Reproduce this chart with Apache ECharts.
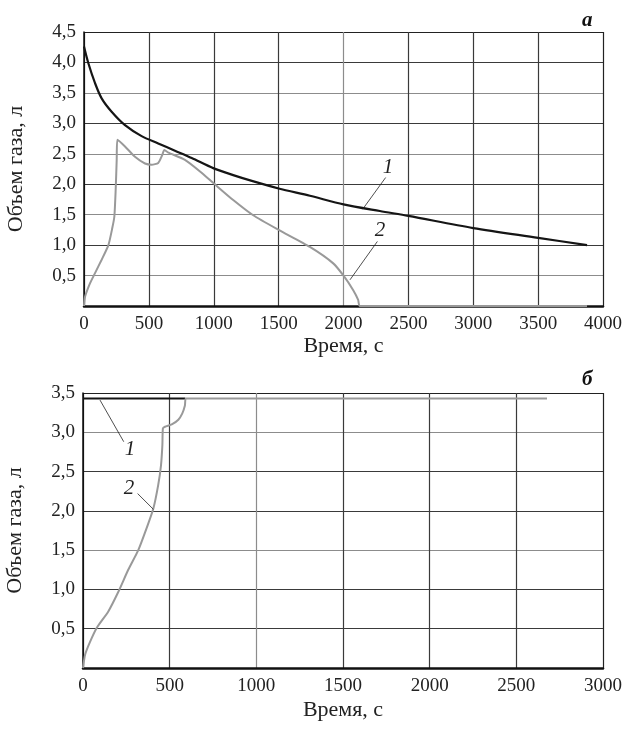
<!DOCTYPE html>
<html><head><meta charset="utf-8">
<script src="https://cdn.jsdelivr.net/npm/echarts@6/dist/echarts.min.js"></script>
<style>html,body{margin:0;padding:0;background:#fff}#c{width:623px;height:731px}</style>
</head><body><div id="c"></div>
<script>
// Panel а
const aCurve1T = [0, 33, 85, 136, 213, 316, 444, 572, 701, 830, 1000, 1150, 1300, 1500, 1741, 2000, 2280, 2500, 3000, 3500, 3877];
const aCurve1V = [4.26, 3.99, 3.66, 3.41, 3.19, 2.97, 2.79, 2.67, 2.55, 2.43, 2.26, 2.15, 2.05, 1.93, 1.81, 1.67, 1.56, 1.48, 1.28, 1.12, 1.00];
const aCurve2T = [0, 8, 46, 85, 136, 188, 218, 234, 244, 252, 257, 316, 393, 470, 521, 572, 603, 619, 650, 778, 894, 1002, 1150, 1304, 1500, 1741, 1921, 2003, 2075, 2113, 2126, 3877];
const aCurve2V = [0, 0.15, 0.37, 0.54, 0.76, 1.0, 1.28, 1.47, 1.90, 2.40, 2.73, 2.62, 2.45, 2.34, 2.32, 2.35, 2.48, 2.56, 2.52, 2.40, 2.21, 2.01, 1.74, 1.49, 1.25, 0.97, 0.70, 0.49, 0.26, 0.10, 0, 0];
// Panel б
const bCurve1T = [0, 590];
const bCurve1V = [3.43, 3.43];
const bCurve2T = [0, 12, 40, 79, 146, 204, 261, 319, 367, 406, 434, 450, 458, 461, 473, 512, 550, 573, 588, 594, 2677];
const bCurve2V = [0, 0.17, 0.33, 0.51, 0.72, 0.97, 1.25, 1.50, 1.78, 2.03, 2.33, 2.58, 2.84, 3.05, 3.07, 3.10, 3.16, 3.24, 3.34, 3.43, 3.43];
// Axis ticks
const aXMax = 4000, aXStep = 500, aYMax = 4.5, aYStep = 0.5;
const bXMax = 3000, bXStep = 500, bYMax = 3.5, bYStep = 0.5;
// Labels
const yName = 'Объем газа, л';
const xName = 'Время, с';
const panelLabels = ['а', 'б'];
const curveLabels = ['1', '2'];
// Annotation anchors (data coords): [labelPos, leaderStart, leaderEnd]
const aNote1 = [[2343, 2.28], [2325, 2.11], [2148, 1.59]];
const aNote2 = [[2281, 1.24], [2261, 1.06], [2050, 0.43]];
const bNote1 = [[271, 2.78], [98, 3.41], [235, 2.88]];
const bNote2 = [[265, 2.28], [315, 2.22], [406, 2.02]];

const zip = (t, v) => t.map((x, i) => [x, v[i]]);
const FONT = 'Liberation Serif';
const D = '#3a3a3a', G = '#8c8c8c';

function yAxis(idx, max, step, colors) {
  return {
    gridIndex: idx, type: 'value', min: 0, max: max, interval: step,
    name: yName, nameLocation: 'middle', nameGap: 57,
    nameTextStyle: {fontFamily: FONT, fontSize: 22, color: '#222'},
    axisLine: {show: true, lineStyle: {color: '#111', width: 1.5}},
    axisTick: {show: false},
    axisLabel: {margin: 8, fontFamily: FONT, fontSize: 19, color: '#222',
      formatter: v => v === 0 ? '' : v.toFixed(1).replace('.', ',')},
    splitLine: {show: true, showMinLine: true, showMaxLine: true, lineStyle: {color: colors, width: 1.2}}
  };
}
function xAxis(idx, max, step, colors, gap) {
  return {
    gridIndex: idx, type: 'value', min: 0, max: max, interval: step,
    name: xName, nameLocation: 'middle', nameGap: gap,
    nameTextStyle: {fontFamily: FONT, fontSize: 22, color: '#222'},
    axisLine: {show: true, lineStyle: {color: '#111', width: 2.5}},
    axisTick: {show: false},
    axisLabel: {margin: 9, fontFamily: FONT, fontSize: 19, color: '#222', formatter: v => String(v)},
    splitLine: {show: true, showMinLine: true, showMaxLine: true, lineStyle: {color: colors, width: 1.2}}
  };
}
function notes(n1, n2) {
  const leaders = [n1, n2].map(n => [{coord: n[1]}, {coord: n[2]}]);
  const pts = [n1, n2].map((n, i) => ({coord: n[0], value: curveLabels[i]}));
  return {
    markLine: {silent: true, symbol: 'none', label: {show: false},
      lineStyle: {color: '#222', width: 0.8, type: 'solid'}, data: leaders},
    markPoint: {silent: true, symbol: 'circle', symbolSize: 0,
      label: {show: true, formatter: p => p.value, fontFamily: FONT, fontStyle: 'italic',
        fontSize: 21, color: '#222', position: 'inside'},
      data: pts}
  };
}

const chart = echarts.init(document.getElementById('c'), null, {renderer: 'canvas'});
chart.setOption({
  animation: false,
  backgroundColor: '#fff',
  title: [
    {text: panelLabels[0], left: 577, top: 5, textStyle: {fontFamily: FONT, fontSize: 21, fontWeight: 'bold', fontStyle: 'italic', color: '#111'}},
    {text: panelLabels[1], left: 577, top: 364, textStyle: {fontFamily: FONT, fontSize: 21, fontWeight: 'bold', fontStyle: 'italic', color: '#111'}}
  ],
  grid: [
    {left: 84, right: 20, top: 32, height: 274, containLabel: false, outerBoundsMode: 'none'},
    {left: 83, right: 20, top: 393, height: 275, containLabel: false, outerBoundsMode: 'none'}
  ],
  xAxis: [
    xAxis(0, aXMax, aXStep, ['#111', D, D, D, G, D, D, D, '#222'], 28),
    xAxis(1, bXMax, bXStep, ['#111', D, G, D, D, D, '#222'], 31)
  ],
  yAxis: [
    yAxis(0, aYMax, aYStep, ['#111', G, D, G, D, G, D, G, D, '#222']),
    yAxis(1, bYMax, bYStep, ['#111', D, D, G, D, D, G, '#222'])
  ],
  series: [
    Object.assign({type: 'line', xAxisIndex: 0, yAxisIndex: 0, data: zip(aCurve1T, aCurve1V), smooth: 0.3,
      symbol: 'none', lineStyle: {color: '#151515', width: 2.2}, z: 4}, notes(aNote1, aNote2)),
    {type: 'line', xAxisIndex: 0, yAxisIndex: 0, data: zip(aCurve2T, aCurve2V), smooth: 0.2,
      symbol: 'none', lineStyle: {color: '#999', width: 2}, z: 3},
    Object.assign({type: 'line', xAxisIndex: 1, yAxisIndex: 1, data: zip(bCurve1T, bCurve1V),
      symbol: 'none', lineStyle: {color: '#151515', width: 2.2}, z: 3}, notes(bNote1, bNote2)),
    {type: 'line', xAxisIndex: 1, yAxisIndex: 1, data: zip(bCurve2T, bCurve2V), smooth: 0.2,
      symbol: 'none', lineStyle: {color: '#999', width: 2}, z: 4}
  ]
});
</script></body></html>
